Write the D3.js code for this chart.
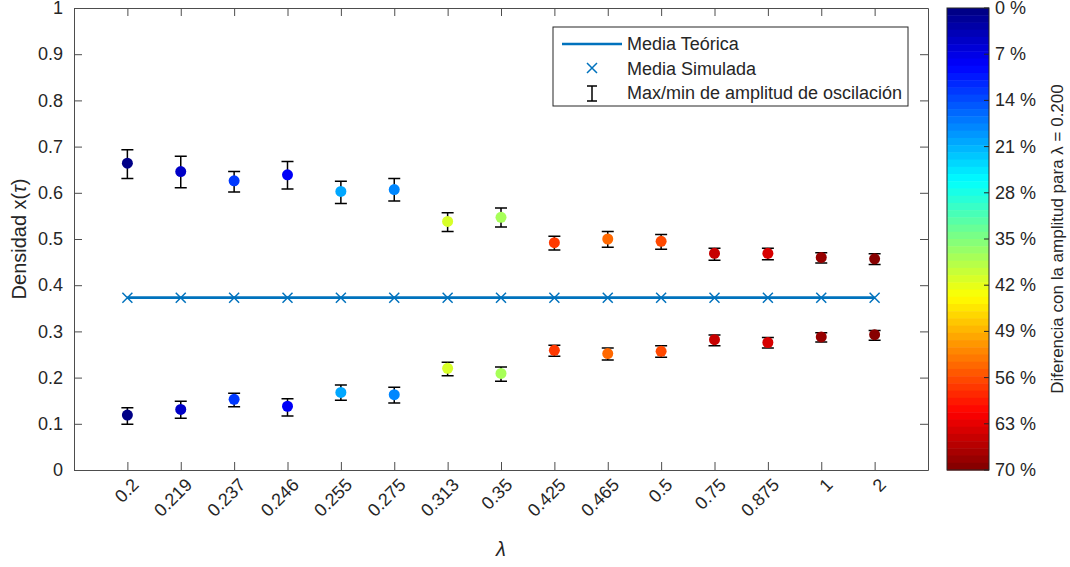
<!DOCTYPE html>
<html>
<head>
<meta charset="utf-8">
<script src="https://cdn.jsdelivr.net/npm/d3@7"></script>
<style>
  body { margin: 0; background: #fff; }
  text { font-family: "Liberation Sans", Arial, sans-serif; fill: #262626; }
</style>
</head>
<body>
<div id="chart"></div>
<script>
// lambda categories (x tick labels)
const lambdaLabels = ["0.2", "0.219", "0.237", "0.246", "0.255", "0.275", "0.313", "0.35",
  "0.425", "0.465", "0.5", "0.75", "0.875", "1", "2"];

// upper branch of the oscillation
const upperMean = [0.664, 0.646, 0.626, 0.639, 0.603, 0.607, 0.538, 0.547, 0.492, 0.500, 0.495, 0.469, 0.469, 0.460, 0.457];
const upperMax = [0.693, 0.679, 0.646, 0.668, 0.625, 0.631, 0.557, 0.567, 0.506, 0.516, 0.510, 0.480, 0.480, 0.470, 0.468];
const upperMin = [0.631, 0.611, 0.602, 0.608, 0.577, 0.582, 0.516, 0.526, 0.476, 0.482, 0.478, 0.454, 0.455, 0.448, 0.445];

// lower branch of the oscillation
const lowerMean = [0.119, 0.131, 0.153, 0.138, 0.168, 0.163, 0.220, 0.209, 0.259, 0.252, 0.257, 0.282, 0.276, 0.288, 0.293];
const lowerMax = [0.135, 0.149, 0.166, 0.154, 0.184, 0.179, 0.233, 0.223, 0.270, 0.264, 0.269, 0.292, 0.287, 0.297, 0.302];
const lowerMin = [0.099, 0.112, 0.137, 0.117, 0.151, 0.145, 0.204, 0.192, 0.246, 0.238, 0.244, 0.269, 0.264, 0.277, 0.281];

// theoretical mean and simulated mean
const theoMean = [0.373, 0.373, 0.373, 0.373, 0.373, 0.373, 0.373, 0.373, 0.373, 0.373, 0.373, 0.373, 0.373, 0.373, 0.373];
const simMean = [0.373, 0.373, 0.373, 0.373, 0.373, 0.373, 0.373, 0.373, 0.373, 0.373, 0.373, 0.373, 0.373, 0.373, 0.373];

// amplitude difference vs lambda = 0.200 (percent), drives the colour
const diffPct = [0, 5, 13, 8, 20, 18, 41, 38, 57, 54, 56, 65, 64, 68, 70];

const yTicks = [0, 0.1, 0.2, 0.3, 0.4, 0.5, 0.6, 0.7, 0.8, 0.9, 1];
const cbTicks = [0, 7, 14, 21, 28, 35, 42, 49, 56, 63, 70];

const width = 1070, height = 567;
const margin = { top: 8, right: 142, bottom: 97, left: 74 };
const innerW = width - margin.left - margin.right;
const innerH = height - margin.top - margin.bottom;

// jet colormap, quantised to 64 levels like matlab
function jet(t) {
  const k = Math.min(63, Math.floor(t * 64));
  const tt = (k + 0.5) / 64;
  const c = (v) => Math.round(255 * Math.max(0, Math.min(1, v)));
  return d3.rgb(c(1.5 - Math.abs(4 * tt - 3)), c(1.5 - Math.abs(4 * tt - 2)), c(1.5 - Math.abs(4 * tt - 1))).formatHex();
}
const pctScale = d3.scaleLinear().domain([0, 70]).range([0, 0.9999]).clamp(true);
const colorOf = (p) => jet(pctScale(p));

const svg = d3.select("#chart").append("svg")
  .attr("width", width).attr("height", height);

const g = svg.append("g").attr("transform", `translate(${margin.left},${margin.top})`);

const x = d3.scaleLinear().domain([0, 16]).range([0, innerW]);
const y = d3.scaleLinear().domain([0, 1]).range([innerH, 0]);

const idx = d3.range(lambdaLabels.length);
const axisColor = "#4d4d4d";

// axes (box with inward ticks)
const yAxis = g.append("g")
  .call(d3.axisLeft(y).tickValues(yTicks).tickSizeInner(-8).tickSizeOuter(0).tickPadding(11)
    .tickFormat((d) => +d.toFixed(1) + ""));
const yAxisR = g.append("g").attr("transform", `translate(${innerW},0)`)
  .call(d3.axisRight(y).tickValues(yTicks).tickSizeInner(-8).tickSizeOuter(0).tickFormat(""));
const xAxis = g.append("g").attr("transform", `translate(0,${innerH})`)
  .call(d3.axisBottom(x).tickValues(d3.range(1, 16)).tickSizeInner(-8).tickSizeOuter(0)
    .tickFormat((d) => lambdaLabels[d - 1]));
const xAxisT = g.append("g")
  .call(d3.axisTop(x).tickValues(d3.range(1, 16)).tickSizeInner(-8).tickSizeOuter(0).tickFormat(""));

[yAxis, yAxisR, xAxis, xAxisT].forEach((a) => {
  a.selectAll("path, line").attr("stroke", axisColor);
  a.selectAll("text").style("font-size", "18px").attr("fill", "#262626")
    .style("font-family", '"Liberation Sans", Arial, sans-serif');
});

xAxis.selectAll("text")
  .attr("text-anchor", "end")
  .attr("dy", "0")
  .attr("transform", "translate(12,16) rotate(-45)")
  .attr("y", 0).attr("x", 0);

// theoretical mean line
g.append("path")
  .datum(idx)
  .attr("fill", "none")
  .attr("stroke", "#0072BD")
  .attr("stroke-width", 2.6)
  .attr("d", d3.line().x((i) => x(i + 1)).y((i) => y(theoMean[i])));

// simulated mean markers
const xm = 5;
g.selectAll(".simx").data(idx).enter().append("path")
  .attr("class", "simx")
  .attr("fill", "none")
  .attr("stroke", "#0072BD")
  .attr("stroke-width", 1.5)
  .attr("d", (i) => {
    const cx = x(i + 1), cy = y(simMean[i]);
    return `M${cx - xm},${cy - xm}L${cx + xm},${cy + xm}M${cx - xm},${cy + xm}L${cx + xm},${cy - xm}`;
  });

// error bars + dots for both branches
const branches = [
  { mean: upperMean, hi: upperMax, lo: upperMin },
  { mean: lowerMean, hi: lowerMax, lo: lowerMin },
];
const cap = 6;
branches.forEach((b) => {
  const eb = g.append("g").attr("stroke", "#000").attr("stroke-width", 1.5).attr("fill", "none");
  eb.selectAll("path").data(idx).enter().append("path")
    .attr("d", (i) => {
      const cx = x(i + 1), t = y(b.hi[i]), l = y(b.lo[i]);
      return `M${cx},${t}L${cx},${l}M${cx - cap},${t}L${cx + cap},${t}M${cx - cap},${l}L${cx + cap},${l}`;
    });
  g.append("g").selectAll("circle").data(idx).enter().append("circle")
    .attr("cx", (i) => x(i + 1))
    .attr("cy", (i) => y(b.mean[i]))
    .attr("r", 5.5)
    .attr("fill", (i) => colorOf(diffPct[i]));
});

// legend
const lg = svg.append("g").attr("transform", "translate(553,27)");
lg.append("rect").attr("x", 0).attr("y", 0).attr("width", 355).attr("height", 79)
  .attr("fill", "#fff").attr("stroke", "#262626").attr("stroke-width", 1);
lg.append("line").attr("x1", 9).attr("x2", 69).attr("y1", 17).attr("y2", 17)
  .attr("stroke", "#0072BD").attr("stroke-width", 2.6);
lg.append("path").attr("fill", "none").attr("stroke", "#0072BD").attr("stroke-width", 1.5)
  .attr("d", `M${39 - xm},${41 - xm}L${39 + xm},${41 + xm}M${39 - xm},${41 + xm}L${39 + xm},${41 - xm}`);
lg.append("path").attr("fill", "none").attr("stroke", "#000").attr("stroke-width", 1.5)
  .attr("d", "M39,59L39,74M34,59L44,59M34,74L44,74");
const legendLabels = ["Media Teórica", "Media Simulada", "Max/min de amplitud de oscilación"];
lg.selectAll("text.lab").data(legendLabels).enter().append("text")
  .attr("x", 74).attr("y", (d, i) => 17 + i * 24.5)
  .attr("dominant-baseline", "central")
  .style("font-size", "18px").attr("fill", "#000")
  .text((d) => d);

// axis labels
svg.append("text")
  .attr("transform", `translate(26,${margin.top + innerH / 2}) rotate(-90)`)
  .attr("text-anchor", "middle")
  .style("font-size", "20px")
  .call((t) => {
    t.append("tspan").text("Densidad x(");
    t.append("tspan").style("font-style", "italic").text("τ");
    t.append("tspan").text(")");
  });
svg.append("text")
  .attr("x", margin.left + innerW / 2).attr("y", 556)
  .attr("text-anchor", "middle")
  .style("font-size", "20px")
  .style("font-style", "italic")
  .text("λ");

// colorbar
const cbX = 947, cbW = 42;
const cbY = d3.scaleLinear().domain([0, 70]).range([margin.top, margin.top + innerH]);
const cb = svg.append("g");
const nLev = 64;
cb.selectAll("rect.lev").data(d3.range(nLev)).enter().append("rect")
  .attr("x", cbX)
  .attr("y", (k) => cbY((k * 70) / nLev))
  .attr("width", cbW)
  .attr("height", (k) => cbY(((k + 1) * 70) / nLev) - cbY((k * 70) / nLev) + 0.5)
  .attr("fill", (k) => jet((k + 0.5) / nLev));
cb.append("rect").attr("x", cbX).attr("y", margin.top).attr("width", cbW).attr("height", innerH)
  .attr("fill", "none").attr("stroke", "#262626").attr("stroke-width", 1);
cb.selectAll("line.tk").data(cbTicks).enter().append("line")
  .attr("x1", cbX + cbW - 5).attr("x2", cbX + cbW)
  .attr("y1", (d) => cbY(d)).attr("y2", (d) => cbY(d))
  .attr("stroke", "#262626");
cb.selectAll("text.tl").data(cbTicks).enter().append("text")
  .attr("x", 995).attr("y", (d) => cbY(d))
  .attr("dominant-baseline", "central")
  .style("font-size", "18px")
  .text((d) => d + " %");
svg.append("text")
  .attr("transform", `translate(1057,${margin.top + innerH / 2}) rotate(-90)`)
  .attr("text-anchor", "middle")
  .attr("dominant-baseline", "central")
  .style("font-size", "17px")
  .text("Diferencia con la amplitud para λ = 0.200");
</script>
</body>
</html>
